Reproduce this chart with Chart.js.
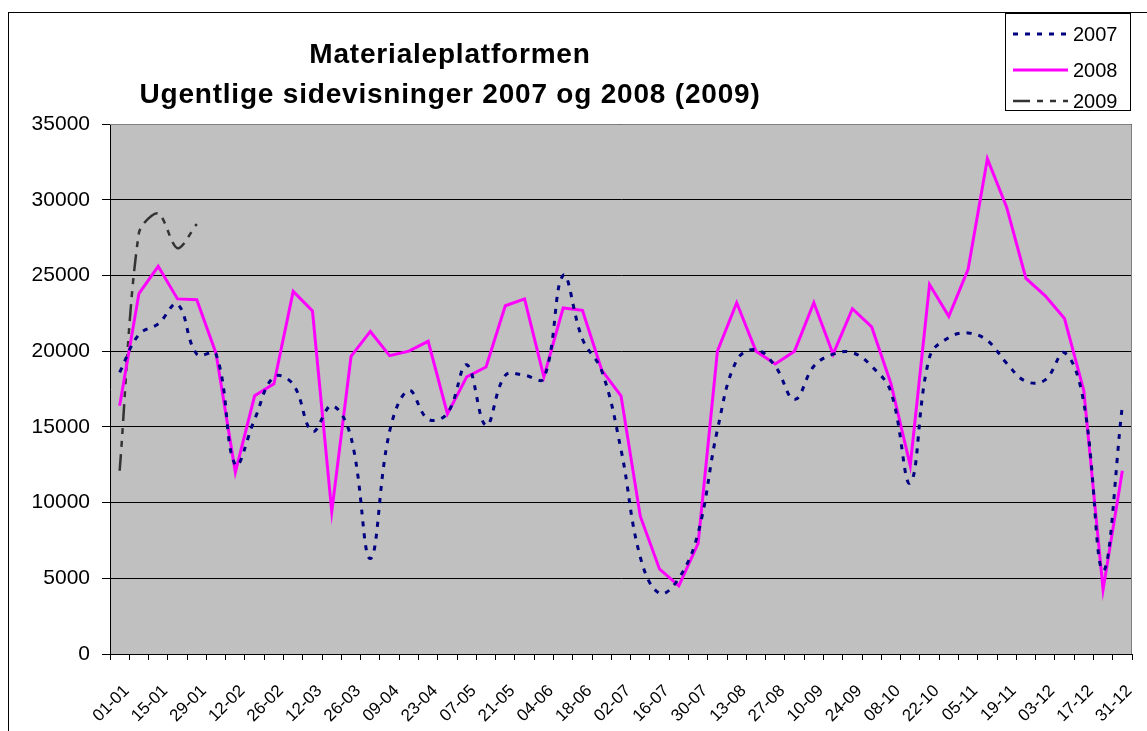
<!DOCTYPE html>
<html>
<head>
<meta charset="utf-8">
<script src="https://cdn.jsdelivr.net/npm/chart.js@4.4.0/dist/chart.umd.min.js"></script>
<style>
  html, body { margin: 0; padding: 0; background: #fff; }
  #wrap { width: 1147px; height: 731px; }
</style>
</head>
<body>
<div id="wrap"><canvas id="chart" width="1147" height="731"></canvas></div>
<script>
  // week start dates (dd-mm), one per week
  const weeks = [
    '01-01', '08-01', '15-01', '22-01', '29-01', '05-02', '12-02', '19-02', '26-02',
    '05-03', '12-03', '19-03', '26-03', '02-04', '09-04', '16-04', '23-04', '30-04',
    '07-05', '14-05', '21-05', '28-05', '04-06', '11-06', '18-06', '25-06',
    '02-07', '09-07', '16-07', '23-07', '30-07', '06-08', '13-08', '20-08', '27-08',
    '03-09', '10-09', '17-09', '24-09', '01-10', '08-10', '15-10', '22-10', '29-10',
    '05-11', '12-11', '19-11', '26-11', '03-12', '10-12', '17-12', '24-12', '31-12'
  ];

  const views2007 = [
    18600, 21100, 21800, 23100, 19800, 19800, 12500, 15500, 18300, 17800,
    14700, 16400, 14300, 6300, 14700, 17400, 15500, 15900, 19100, 15100,
    18400, 18400, 18200, 25000, 20800, 18700, 13500, 6400, 4000, 5000,
    8000, 14800, 19400, 20100, 19000, 16800, 19000, 19800, 19900, 19000,
    17300, 11300, 19600, 20900, 21200, 20700, 19200, 18000, 18100, 19900,
    16600, 5500, 16400
  ];

  const views2008 = [
    16400, 23800, 25600, 23450, 23400, 19850, 12000, 17050, 17850, 23950,
    22650, 9400, 19650, 21300, 19700, 20000, 20650, 15850, 18300, 18950,
    23000, 23450, 18300, 22850, 22700, 18750, 17050, 9100, 5600, 4500,
    7300, 20000, 23200, 20000, 19150, 20000, 23200, 19800, 22800, 21600,
    17850, 12450, 24400, 22300, 25400, 32700, 29500, 24800, 23650, 22150,
    17400, 4250, 12100
  ];

  const views2009 = [12100, 27800, 29100, 26800, 28400];

  const seriesNames = ['2007', '2008', '2009'];
  const titleLines = ['Materialeplatformen', 'Ugentlige sidevisninger 2007 og 2008 (2009)'];
  const yMax = 35000;
  const yStep = 5000;

  const FONT = '"Liberation Sans", Arial, sans-serif';

  // grey plot area + outer frame, title and boxed legend drawn by hand like Excel does
  const excelLook = {
    id: 'excelLook',
    beforeDraw(chart) {
      const { ctx, chartArea: a } = chart;
      ctx.save();
      ctx.fillStyle = '#fff';
      ctx.fillRect(0, 0, chart.width, chart.height);
      ctx.fillStyle = '#c0c0c0';
      ctx.fillRect(a.left, a.top, a.right - a.left, a.bottom - a.top);
      ctx.restore();
    },
    afterDatasetsDraw(chart) {
      const { ctx, chartArea: a } = chart;
      ctx.save();
      // plot border (top/right in grey)
      ctx.strokeStyle = '#808080';
      ctx.lineWidth = 1;
      ctx.beginPath();
      ctx.moveTo(a.left, a.top + 0.5);
      ctx.lineTo(a.right - 0.5, a.top + 0.5);
      ctx.lineTo(a.right - 0.5, a.bottom);
      ctx.stroke();
      ctx.restore();
    },
    afterDraw(chart) {
      const { ctx } = chart;
      ctx.save();
      // chart frame
      ctx.strokeStyle = '#000';
      ctx.lineWidth = 1;
      ctx.strokeRect(8.5, 12.5, chart.width + 20, chart.height + 20);

      // title
      ctx.fillStyle = '#000';
      ctx.font = 'bold 28px ' + FONT;
      ctx.letterSpacing = '0.8px';
      ctx.textAlign = 'center';
      ctx.textBaseline = 'alphabetic';
      ctx.fillText(titleLines[0], 450, 63);
      ctx.fillText(titleLines[1], 450, 103);
      ctx.letterSpacing = '0px';

      // legend box
      const lx = 1005, ly = 13, lw = 125, lh = 97;
      ctx.fillStyle = '#fff';
      ctx.fillRect(lx, ly, lw, lh);
      ctx.strokeStyle = '#000';
      ctx.strokeRect(lx + 0.5, ly + 0.5, lw, lh);
      const rows = [34, 70, 101];
      chart.data.datasets.forEach((ds, i) => {
        const y = rows[i];
        ctx.beginPath();
        ctx.strokeStyle = ds.borderColor;
        ctx.lineWidth = ds.borderWidth;
        ctx.setLineDash(ds.borderDash || []);
        ctx.moveTo(1013, y);
        ctx.lineTo(1068, y);
        ctx.stroke();
        ctx.setLineDash([]);
        ctx.fillStyle = '#000';
        ctx.font = '20px ' + FONT;
        ctx.textAlign = 'left';
        ctx.textBaseline = 'middle';
        ctx.fillText(ds.label, 1073, y + 1);
      });
      ctx.restore();
    }
  };

  const ctx = document.getElementById('chart').getContext('2d');
  new Chart(ctx, {
    type: 'line',
    data: {
      labels: weeks,
      datasets: [
        {
          label: seriesNames[0],
          data: views2007,
          borderColor: '#000080',
          borderWidth: 3,
          borderDash: [5, 7],
          tension: 0.4,
          pointRadius: 0,
          fill: false,
        },
        {
          label: seriesNames[1],
          data: views2008,
          borderColor: '#ff00ff',
          borderWidth: 3,
          tension: 0,
          pointRadius: 0,
          fill: false,
        },
        {
          label: seriesNames[2],
          data: views2009,
          borderColor: '#333333',
          borderWidth: 2.5,
          borderDash: [17, 7, 6, 7, 6, 7],
          tension: 0.3,
          pointRadius: 0,
          fill: false,
        },
      ],
    },
    options: {
      responsive: false,
      animation: false,
      layout: { padding: { left: 0, top: 124, right: 15, bottom: 0 } },
      scales: {
        x: {
          offset: true,
          grid: {
            offset: true,
            drawOnChartArea: false,
            drawTicks: true,
            tickLength: 6,
            color: '#000',
          },
          border: { color: '#000', width: 1 },
          ticks: {
            autoSkip: false,
            maxRotation: 45,
            minRotation: 45,
            padding: 21,
            labelOffset: 7,
            color: '#000',
            font: { family: FONT, size: 17 },
            callback: (value, index) => (index % 2 === 0 ? weeks[index] : ''),
          },
          afterFit: (scale) => {
            scale.height = 77;
            scale.paddingLeft = 0;
            scale.paddingRight = 0;
          },
        },
        y: {
          min: 0,
          max: yMax,
          ticks: {
            stepSize: yStep,
            padding: 12,
            color: '#000',
            font: { family: FONT, size: 21 },
            callback: (value) => String(value),
          },
          grid: {
            color: '#000',
            tickLength: 8,
            lineWidth: 1,
          },
          border: { color: '#000', width: 1 },
          afterFit: (scale) => {
            scale.width = 110;
            scale.paddingTop = 0;
            scale.paddingBottom = 0;
          },
        },
      },
      plugins: {
        legend: { display: false },
        title: { display: false },
        tooltip: { enabled: false },
      },
    },
    plugins: [excelLook],
  });
</script>
</body>
</html>
